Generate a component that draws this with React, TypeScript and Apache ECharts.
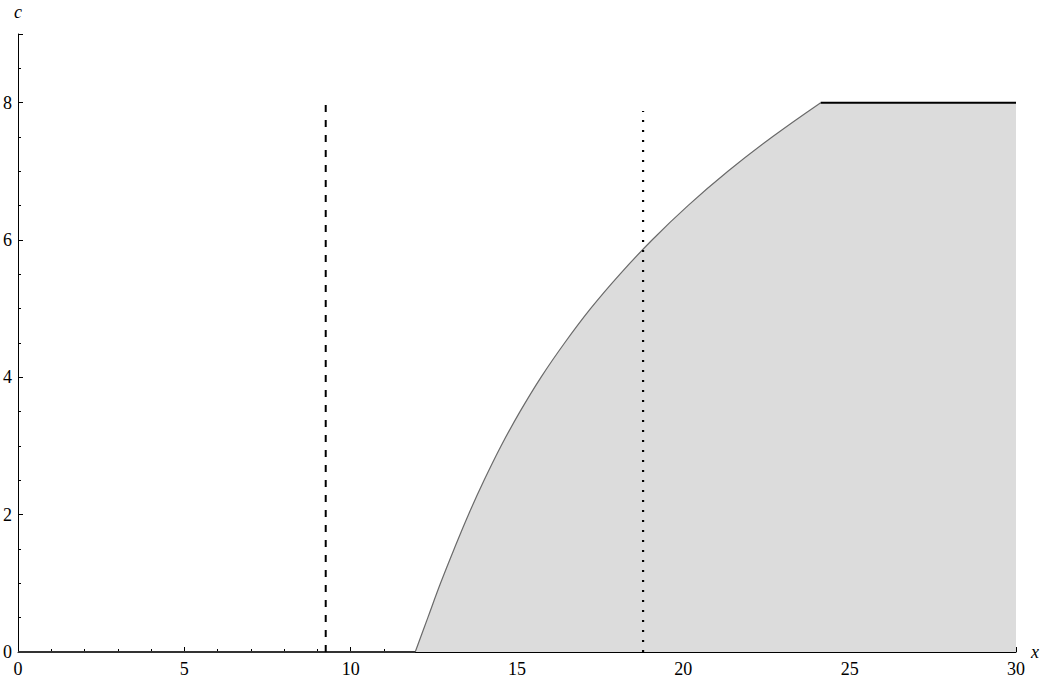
import React, { useEffect, useRef } from "react";
import * as echarts from "echarts";

// Boundary curve (x, c) (smoothed readings)
const curveC = [0, 0.5, 1.0, 1.5, 2.0, 2.5, 3.0, 3.5, 4.0, 4.5, 5.0, 5.5, 6.0, 6.5, 7.0, 7.5, 8.0];
const curveX = [11.94, 12.32, 12.7, 13.11, 13.54, 14.01, 14.52, 15.09, 15.72, 16.43, 17.21, 18.09, 19.06, 20.14, 21.34, 22.67, 24.13];

const capLevel = 8; // horizontal cap
const capFillStart = 24.1;
const xMax = 30;
const yMax = 9;
const dashedX = 9.25;
const dashedTop = 8;
const dottedX = 18.79;
const dottedTop = 7.88;

const xTicks = [0, 5, 10, 15, 20, 25, 30];
const yTicks = [0, 2, 4, 6, 8];

const FONT = "'Liberation Serif', 'Times New Roman', serif";
const FILL = "#dcdcdc";

export default function App() {
  const ref = useRef<HTMLDivElement>(null);
  useEffect(() => {
    if (!ref.current) return;
    const chart = echarts.init(ref.current, undefined, { renderer: "svg" });
    const curve = curveX.map((x, i) => [x, curveC[i]]);
    const last = curve[curve.length - 1];
    chart.setOption({
      animation: false,
      backgroundColor: "#ffffff",
      grid: { left: 16, right: 27, top: 34, bottom: 29, containLabel: false },
      xAxis: {
        type: "value",
        min: 0,
        max: xMax,
        interval: 5,
        name: "x",
        nameLocation: "end",
        nameGap: 15,
        nameTextStyle: { fontFamily: FONT, fontStyle: "italic", fontSize: 18, color: "#000" },
        axisLine: { show: true, onZero: false, lineStyle: { color: "#000", width: 1 } },
        axisTick: { show: true, inside: true, length: 5, lineStyle: { color: "#000" } },
        minorTick: { show: true, splitNumber: 5, length: 3, lineStyle: { color: "#000" } },
        splitLine: { show: false },
        axisLabel: {
          margin: 8,
          fontFamily: FONT,
          fontSize: 18,
          color: "#000",
          formatter: (v: number) => (xTicks.includes(v) ? String(v) : ""),
        },
      },
      yAxis: {
        type: "value",
        min: 0,
        max: yMax,
        interval: 2,
        name: "c",
        nameLocation: "end",
        nameGap: 13,
        nameTextStyle: { fontFamily: FONT, fontStyle: "italic", fontSize: 18, color: "#000" },
        axisLine: { show: true, onZero: false, lineStyle: { color: "#000", width: 1 } },
        axisTick: { show: true, inside: true, length: 5, lineStyle: { color: "#000" } },
        minorTick: { show: true, splitNumber: 4, length: 3, lineStyle: { color: "#000" } },
        splitLine: { show: false },
        axisLabel: {
          margin: 6,
          fontFamily: FONT,
          fontSize: 18,
          color: "#000",
          showMaxLabel: false,
          formatter: (v: number) => (yTicks.includes(v) ? String(v) : ""),
        },
      },
      series: [
        {
          type: "line",
          data: curve,
          showSymbol: false,
          smooth: 0.4,
          lineStyle: { opacity: 0, width: 0 },
          areaStyle: { color: FILL, opacity: 1 },
          z: 1,
        },
        {
          type: "line",
          data: [[capFillStart, capLevel], [xMax, capLevel]],
          showSymbol: false,
          lineStyle: { opacity: 0, width: 0 },
          areaStyle: { color: FILL, opacity: 1 },
          z: 1,
        },
        {
          type: "line",
          data: curve,
          showSymbol: false,
          smooth: 0.4,
          lineStyle: { color: "#6a6a6a", width: 1.2 },
          z: 3,
        },
        {
          type: "line",
          data: [last, [xMax, capLevel]],
          showSymbol: false,
          lineStyle: { color: "#000", width: 2 },
          z: 4,
        },
        {
          type: "line",
          data: [[0, 0], [curveX[0], 0]],
          showSymbol: false,
          lineStyle: { color: "#333", width: 2 },
          z: 4,
        },
        {
          type: "line",
          data: [[dashedX, 0], [dashedX, dashedTop]],
          showSymbol: false,
          lineStyle: { color: "#000", width: 2, type: [7, 8] },
          z: 5,
        },
        {
          type: "line",
          data: [[dottedX, 0], [dottedX, dottedTop]],
          showSymbol: false,
          lineStyle: { color: "#000", width: 2.2, type: [2, 8] },
          z: 5,
        },
      ],
    });
    return () => chart.dispose();
  }, []);
  return (
    <div
      ref={ref}
      style={{ position: "fixed", left: 0, top: 0, width: 1043, height: 681, background: "#fff" }}
    />
  );
}
